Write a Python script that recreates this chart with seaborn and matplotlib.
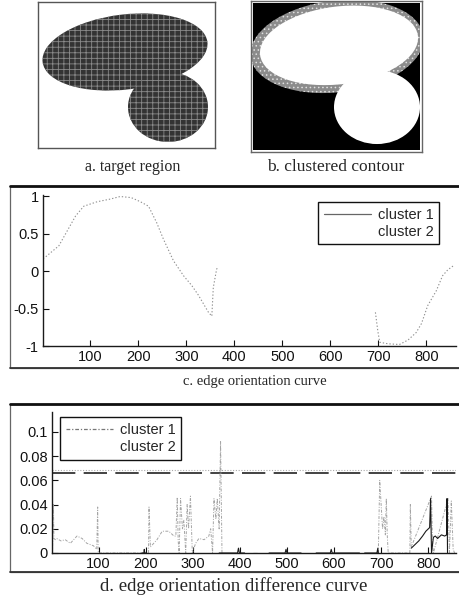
import matplotlib
matplotlib.use("Agg")
import matplotlib.pyplot as plt
from matplotlib.patches import Ellipse, Rectangle
from matplotlib.lines import Line2D
import pandas as pd
import seaborn as sns

sns.set_style("white")
plt.rcParams['font.family'] = ['Liberation Sans', 'DejaVu Sans']
plt.rcParams['hatch.linewidth'] = 0.6

# ---- c. edge orientation curve (two visible pieces of cluster 1) ----
c1_x_a = [1, 6, 34, 55, 69, 86, 114, 141, 162, 185, 204, 221, 238, 252, 273, 294, 311, 325, 346, 353, 356, 363, 366]
c1_y_a = [0.17, 0.19, 0.34, 0.58, 0.74, 0.87, 0.93, 0.965, 1.0, 0.985, 0.93, 0.87, 0.65, 0.43, 0.14, -0.06, -0.19, -0.32, -0.55, -0.60, -0.22, 0.03, 0.05]
c1_x_b = [694, 699, 703, 720, 744, 762, 779, 790, 803, 821, 834, 845, 858]
c1_y_b = [-0.55, -0.80, -0.95, -0.97, -0.98, -0.92, -0.82, -0.70, -0.46, -0.26, -0.06, 0.02, 0.08]
# cluster 2 is printed in a colour that vanished in the scan (border run)
c2_x = [366, 694]
c2_y = [-1.0, -1.0]

# ---- d. edge orientation difference curve ----
d1_x_a = [2, 4, 5, 8, 11, 20, 29, 40, 47, 54, 65, 75, 89, 96, 98, 99, 100, 196]
d1_y_a = [0, 0.040, 0.012, 0.011, 0.012, 0.010, 0.011, 0.008, 0.011, 0.014, 0.012, 0.008, 0.006, 0.003, 0.038, 0.002, 0, 0]
d1_x_b = [206, 207, 210, 224, 235, 249, 260, 264, 267, 269, 271, 274, 278, 281, 285, 288, 291, 295, 299,
          306, 313, 324, 334, 338, 342, 345, 349, 352, 356, 359, 362]
d1_y_b = [0, 0.038, 0.005, 0.011, 0.018, 0.018, 0.014, 0.014, 0.046, 0.010, 0.0, 0.045, 0.020, 0.027, 0.0, 0.040, 0.020, 0.047, 0.0,
          0.008, 0.012, 0.011, 0.014, 0.020, 0.0, 0.045, 0.028, 0.045, 0.020, 0.092, 0.0]
d1_x_c = [694, 697, 700, 703, 706, 709, 711, 713, 715, 761]
d1_y_c = [0, 0.060, 0.040, 0.020, 0.030, 0.015, 0.045, 0.015, 0, 0]
d1_x_d = [761, 762, 764, 805, 807, 809, 811, 842, 845, 849, 853, 856]
d1_y_d = [0, 0.040, 0.005, 0.045, 0.047, 0.010, 0, 0.045, 0, 0.043, 0.003, 0]
d2_x = [366, 694]
d2_y = [0.0, 0.0]
# dark runs along the baseline and the dark rising part near 800
dk_x_a = [192, 196, 197, 198, 202]
dk_y_a = [0, 0, 0.003, 0, 0]
dk_x_b = [356, 395, 397, 399, 410]
dk_y_b = [0, 0, 0.004, 0, 0]
dk_x_c = [427, 437]
dk_y_c = [0, 0]
dk_x_d = [462, 496, 498, 500, 530]
dk_y_d = [0, 0, 0.003, 0, 0]
dk_x_e = [562, 592, 594, 596, 654]
dk_y_e = [0, 0, 0.003, 0, 0]
dk_x_f = [665, 691, 693, 694]
dk_y_f = [0, 0, 0.004, 0]
dk_x_g = [764, 772, 780, 788, 795, 803, 805, 807, 811, 815, 820, 828, 835, 839, 840, 841]
dk_y_g = [0.004, 0.007, 0.010, 0.014, 0.018, 0.021, 0.045, 0.0, 0.013, 0.014, 0.012, 0.015, 0.014, 0.015, 0.045, 0.0]
threshold = 0.0663
threshold2 = 0.0685

c_xticks = [100, 200, 300, 400, 500, 600, 700, 800]
c_yticks = [-1, -0.5, 0, 0.5, 1]
c_yticklabels = ['-1', '-0.5', '0', '0.5', '1']
d_yticks = [0, 0.02, 0.04, 0.06, 0.08, 0.1]
d_yticklabels = ['0', '0.02', '0.04', '0.06', '0.08', '0.1']

captions = ['a. target region', 'b. clustered contour', 'c. edge orientation curve',
            'd. edge orientation difference curve']


def segs(*pairs):
    rows = []
    for k, (xs, ys) in enumerate(pairs):
        for x, y in zip(xs, ys):
            rows.append({'x': x, 'y': y, 'seg': k})
    return pd.DataFrame(rows)


W, H = 459, 608
fig = plt.figure(figsize=(W / 100, H / 100), dpi=100)


def box(l, t, r, b):
    return [l / W, 1 - b / H, (r - l) / W, (b - t) / H]


# ---- a. target region ----
axa = fig.add_axes(box(38, 2, 215, 148))
axa.set_xlim(38, 215)
axa.set_ylim(148, 2)
axa.set_xticks([])
axa.set_yticks([])
for s in axa.spines.values():
    s.set_color('#555555')
    s.set_linewidth(1.0)
for (cx, cy, w, h, ang) in [(125, 52, 166, 75, -7), (168, 107, 80, 70, 0)]:
    axa.add_patch(Ellipse((cx, cy), w, h, angle=ang, facecolor='#333333',
                          edgecolor='#8a8a8a', hatch='+++', linewidth=0))

# ---- b. clustered contour ----
axb = fig.add_axes(box(251, 0.5, 422, 152))
axb.set_xlim(251, 422)
axb.set_ylim(152, 0)
axb.set_xticks([])
axb.set_yticks([])
for s in axb.spines.values():
    s.set_color('#666666')
    s.set_linewidth(1.0)
axb.add_patch(Rectangle((253, 2.5), 167, 147.5, facecolor='black', edgecolor='none'))
axb.add_patch(Ellipse((337, 46), 174, 92, angle=-7, facecolor='#8c8c8c',
                      edgecolor='#e0e0e0', hatch='....', linewidth=0))
axb.add_patch(Ellipse((339, 45), 159, 78, angle=-7, facecolor='white', edgecolor='none'))
axb.add_patch(Ellipse((377, 107), 86, 74, angle=0, facecolor='white', edgecolor='none'))
axb.add_patch(Rectangle((420, 0), 3, 152, facecolor='white', edgecolor='none'))
axb.add_patch(Rectangle((251, 150), 171, 3, facecolor='white', edgecolor='none'))


def matlab_style(ax):
    for s in ['top', 'right']:
        ax.spines[s].set_visible(False)
    for s in ['left', 'bottom']:
        ax.spines[s].set_color('#1a1a1a')
        ax.spines[s].set_linewidth(1.0)
    ax.tick_params(direction='in', length=4, width=0.8, labelsize=10.5,
                   colors='#111111', pad=3, left=True, bottom=True)
    ax.set_xlabel('')
    ax.set_ylabel('')


def frame(top, bottom):
    fig.add_artist(Rectangle((10 / W, 1 - bottom / H), (W + 20 - 10) / W, (bottom - top) / H,
                             transform=fig.transFigure, fill=False, edgecolor='#666666', lw=0.9))
    fig.add_artist(Line2D([10 / W, 1], [1 - top / H] * 2, transform=fig.transFigure,
                          color='#111111', lw=2.0))
    fig.add_artist(Line2D([10 / W, 1], [1 - bottom / H] * 2, transform=fig.transFigure,
                          color='#333333', lw=1.3))


# ---- c. edge orientation curve ----
frame(186, 368)
axc = fig.add_axes(box(43, 195, 456, 346))
sns.lineplot(data=segs((c2_x, c2_y)), x='x', y='y', units='seg', estimator=None,
             color='white', lw=0.8, ax=axc, legend=False)
sns.lineplot(data=segs((c1_x_a, c1_y_a), (c1_x_b, c1_y_b)), x='x', y='y', units='seg',
             estimator=None, sort=False, color='#909090', lw=0.8,
             linestyle=(0, (1.2, 1.8)), ax=axc, legend=False)
axc.set_xlim(1, 862)
axc.set_ylim(-1, 1.02)
axc.set_xticks(c_xticks)
axc.set_yticks(c_yticks)
axc.set_yticklabels(c_yticklabels)
matlab_style(axc)
hc = [Line2D([], [], color='#666666', lw=0.9), Line2D([], [], color='white', lw=0.9)]
legc = axc.legend(hc, ['cluster 1', 'cluster 2'], loc='upper left', bbox_to_anchor=(0.666, 0.955),
                  borderaxespad=0, fancybox=False, edgecolor='#111111', fontsize=10.5,
                  handlelength=3.2, handletextpad=0.5, borderpad=0.4, labelspacing=0.2,
                  framealpha=1)
legc.get_frame().set_linewidth(1.0)

# ---- d. edge orientation difference curve ----
frame(404, 572)
axd = fig.add_axes(box(52, 412, 456, 553))
axd.axhline(threshold2, color='#aaaaaa', lw=0.8, linestyle=(0, (1, 1.5)))
axd.axhline(threshold, color='#222222', lw=1.2, linestyle=(0, (14, 5)))
sns.lineplot(data=segs((d2_x, d2_y)), x='x', y='y', units='seg', estimator=None,
             color='white', lw=0.8, ax=axd, legend=False)
sns.lineplot(data=segs((d1_x_a, d1_y_a), (d1_x_b, d1_y_b), (d1_x_c, d1_y_c), (d1_x_d, d1_y_d)),
             x='x', y='y', units='seg', estimator=None, sort=False, color='#a5a5a5', lw=0.7,
             linestyle=(0, (3, 1.5, 1, 1.5)), ax=axd, legend=False)
sns.lineplot(data=segs((dk_x_a, dk_y_a), (dk_x_b, dk_y_b), (dk_x_c, dk_y_c), (dk_x_d, dk_y_d),
                       (dk_x_e, dk_y_e), (dk_x_f, dk_y_f), (dk_x_g, dk_y_g)),
             x='x', y='y', units='seg', estimator=None, sort=False, color='#1a1a1a', lw=0.8,
             ax=axd, legend=False)
axd.set_xlim(1, 859)
axd.set_ylim(0, 0.1165)
axd.set_xticks(c_xticks)
axd.set_yticks(d_yticks)
axd.set_yticklabels(d_yticklabels)
matlab_style(axd)
hd = [Line2D([], [], color='#777777', lw=0.9, linestyle=(0, (3, 1.5, 1, 1.5))),
      Line2D([], [], color='white', lw=0.9)]
legd = axd.legend(hd, ['cluster 1', 'cluster 2'], loc='upper left', bbox_to_anchor=(0.02, 0.965),
                  borderaxespad=0, fancybox=False, edgecolor='#111111', fontsize=10.5,
                  handlelength=3.2, handletextpad=0.5, borderpad=0.4, labelspacing=0.2,
                  framealpha=1)
legd.get_frame().set_linewidth(1.0)

# ---- captions ----
serif = ['Liberation Serif', 'DejaVu Serif']
fig.text(133 / W, 1 - 167 / H, captions[0], ha='center', va='center', family=serif, size=11.5)
fig.text(336 / W, 1 - 167 / H, captions[1], ha='center', va='center', family=serif, size=12.5)
fig.text(255 / W, 1 - 382 / H, captions[2], ha='center', va='center', family=serif, size=10.5)
fig.text(234 / W, 1 - 586 / H, captions[3], ha='center', va='center', family=serif, size=13.5)

fig.savefig('out.png', dpi=100)
